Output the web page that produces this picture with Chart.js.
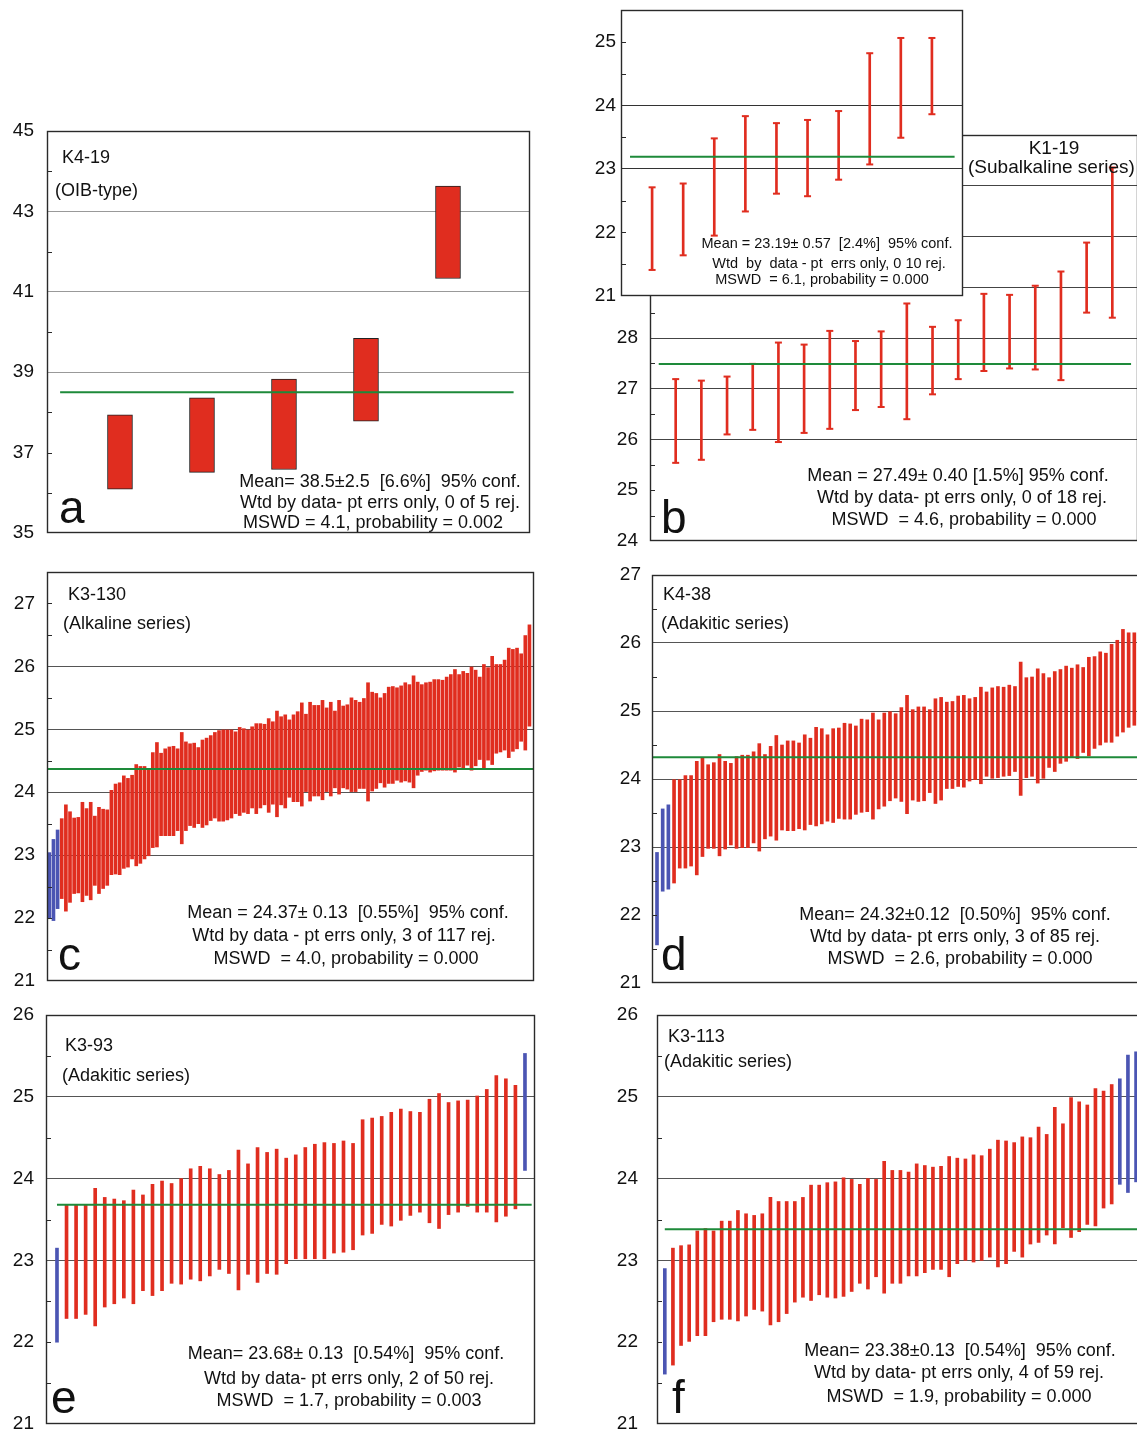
<!DOCTYPE html>
<html>
<head>
<meta charset="utf-8">
<title>Weighted mean ages</title>
<script src="https://cdn.jsdelivr.net/npm/chart.js@4/dist/chart.umd.min.js"></script>
<style>
  html, body { margin: 0; padding: 0; background: #fff; width: 1137px; height: 1429px; overflow: hidden; position: relative; }
  .txt { position: absolute; font-family: "Liberation Sans", Arial, Helvetica, sans-serif; color: #111; white-space: pre; z-index: 10; }
</style>
</head>
<body>
<script>
// ---------- data: individual spot ages (lower / upper 2σ bounds), Ma ----------
const aLow  = [36.09, 36.51, 36.58, 37.78, 41.33];
const aHigh = [37.94, 38.36, 38.83, 39.84, 43.63];
const aMean = 38.5;

const bLow  = [25.54, 25.60, 26.10, 26.19, 25.95, 26.13, 26.21, 26.58, 26.64, 26.40, 26.89, 27.19, 27.35, 27.40, 27.38, 27.17, 28.50, 28.40];
const bHigh = [27.19, 27.16, 27.24, 27.49, 27.91, 27.87, 28.14, 27.94, 28.13, 28.68, 28.22, 28.35, 28.87, 28.85, 29.03, 29.31, 29.88, 31.36];
const bMean = 27.49;

const insetLow  = [21.41, 21.64, 21.95, 22.33, 22.61, 22.57, 22.83, 23.07, 23.49, 23.86];
const insetHigh = [22.71, 22.77, 23.48, 23.83, 23.72, 23.77, 23.91, 24.82, 25.06, 25.06];
const insetMean = 23.19;

const cLow = [
  21.99, 21.96, 22.15, 22.31, 22.11, 22.25, 22.39, 22.40, 22.26, 22.36,
  22.29, 22.52, 22.39, 22.47, 22.52, 22.69, 22.70, 22.69, 22.79, 22.81,
  22.94, 22.83, 22.87, 22.94, 22.99, 23.12, 23.13, 23.31, 23.31, 23.31,
  23.31, 23.39, 23.18, 23.39, 23.47, 23.44, 23.50, 23.44, 23.48, 23.55,
  23.59, 23.54, 23.54, 23.56, 23.59, 23.66, 23.63, 23.68, 23.66, 23.75,
  23.66, 23.75, 23.80, 23.68, 23.81, 23.61, 23.80, 23.75, 23.92, 23.85,
  23.85, 23.78, 24.01, 23.86, 23.94, 23.94, 23.88, 24.01, 23.94, 24.07,
  23.97, 24.07, 24.05, 24.01, 24.01, 24.06, 24.06, 23.86, 24.02, 24.06,
  24.15, 24.08, 24.14, 24.14, 24.19, 24.16, 24.18, 24.16, 24.07, 24.27,
  24.33, 24.35, 24.32, 24.34, 24.35, 24.35, 24.35, 24.35, 24.32, 24.40,
  24.38, 24.43, 24.35, 24.42, 24.52, 24.38, 24.51, 24.44, 24.62, 24.64,
  24.67, 24.55, 24.65, 24.69, 24.81, 24.67, 25.05
];
const cHigh = [
  23.04, 23.25, 23.40, 23.58, 23.80, 23.69, 23.59, 23.60, 23.84, 23.74,
  23.84, 23.62, 23.76, 23.73, 23.72, 24.03, 24.13, 24.15, 24.26, 24.22,
  24.27, 24.44, 24.41, 24.41, 24.36, 24.63, 24.79, 24.62, 24.69, 24.72,
  24.73, 24.69, 24.95, 24.80, 24.77, 24.78, 24.71, 24.83, 24.86, 24.90,
  24.95, 24.98, 24.99, 24.99, 24.99, 24.96, 25.03, 25.01, 24.99, 25.04,
  25.09, 25.09, 25.08, 25.17, 25.12, 25.29, 25.20, 25.23, 25.15, 25.23,
  25.28, 25.42, 25.24, 25.43, 25.38, 25.38, 25.46, 25.34, 25.43, 25.29,
  25.46, 25.37, 25.39, 25.50, 25.46, 25.43, 25.49, 25.74, 25.59, 25.57,
  25.50, 25.57, 25.67, 25.68, 25.66, 25.69, 25.74, 25.71, 25.85, 25.75,
  25.71, 25.74, 25.75, 25.79, 25.79, 25.78, 25.83, 25.87, 25.95, 25.87,
  25.92, 25.89, 25.99, 25.94, 25.83, 26.03, 25.98, 26.16, 26.03, 26.03,
  26.10, 26.29, 26.27, 26.29, 26.20, 26.49, 26.66
];
const cMean = 24.37;
const cRejected = [1, 2, 3];

const dLow = [
  21.56, 22.35, 22.38, 22.47, 22.69, 22.69, 22.72, 22.59, 22.86, 22.98,
  22.98, 22.87, 22.97, 23.03, 22.98, 22.99, 22.99, 23.06, 22.94, 23.12,
  23.16, 23.10, 23.25, 23.24, 23.24, 23.27, 23.25, 23.33, 23.31, 23.34,
  23.38, 23.36, 23.42, 23.41, 23.41, 23.48, 23.51, 23.52, 23.41, 23.56,
  23.60, 23.68, 23.72, 23.67, 23.49, 23.69, 23.67, 23.68, 23.80, 23.64,
  23.69, 23.86, 23.86, 23.89, 23.88, 23.97, 23.99, 23.93, 24.04, 24.01,
  24.02, 24.04, 24.05, 24.11, 23.76, 24.02, 24.04, 23.94, 24.01, 24.17,
  24.11, 24.23, 24.26, 24.33, 24.30, 24.39, 24.34, 24.45, 24.50, 24.54,
  24.54, 24.63, 24.69, 24.76, 24.79
];
const dHigh = [
  22.92, 23.56, 23.62, 23.99, 23.99, 24.05, 24.05, 24.26, 24.31, 24.21,
  24.24, 24.36, 24.26, 24.23, 24.33, 24.35, 24.35, 24.40, 24.52, 24.36,
  24.48, 24.64, 24.50, 24.56, 24.56, 24.53, 24.65, 24.60, 24.76, 24.74,
  24.65, 24.74, 24.75, 24.82, 24.81, 24.78, 24.88, 24.87, 24.97, 24.87,
  24.97, 24.99, 24.96, 25.05, 25.23, 25.02, 25.06, 25.06, 25.02, 25.18,
  25.20, 25.13, 25.14, 25.22, 25.23, 25.18, 25.20, 25.35, 25.28, 25.34,
  25.36, 25.35, 25.38, 25.36, 25.72, 25.49, 25.50, 25.62, 25.55, 25.49,
  25.58, 25.61, 25.66, 25.63, 25.68, 25.64, 25.79, 25.80, 25.87, 25.85,
  25.98, 26.04, 26.20, 26.15, 26.15
];
const dMean = 24.32;
const dRejected = [1, 2, 3];

const eLow = [
  22.00, 22.29, 22.29, 22.34, 22.20, 22.43, 22.47, 22.54, 22.47, 22.63,
  22.57, 22.63, 22.72, 22.71, 22.77, 22.75, 22.81, 22.89, 22.84, 22.64,
  22.83, 22.73, 22.84, 22.83, 22.96, 23.02, 23.02, 23.02, 23.02, 23.09,
  23.10, 23.13, 23.31, 23.33, 23.44, 23.42, 23.49, 23.55, 23.59, 23.46,
  23.39, 23.56, 23.59, 23.66, 23.59, 23.59, 23.47, 23.54, 23.63, 24.10
];
const eHigh = [
  23.15, 23.68, 23.68, 23.68, 23.88, 23.77, 23.75, 23.73, 23.86, 23.80,
  23.93, 23.97, 23.94, 24.00, 24.12, 24.15, 24.12, 24.05, 24.10, 24.35,
  24.18, 24.38, 24.32, 24.36, 24.25, 24.29, 24.38, 24.42, 24.44, 24.43,
  24.46, 24.43, 24.72, 24.74, 24.76, 24.81, 24.85, 24.82, 24.81, 24.97,
  25.04, 24.93, 24.95, 24.96, 25.01, 25.09, 25.26, 25.22, 25.14, 25.53
];
const eMean = 23.68;
const eRejected = [1, 50];

const fLow = [
  21.61, 21.72, 21.96, 22.01, 22.08, 22.08, 22.25, 22.28, 22.28, 22.26,
  22.32, 22.40, 22.38, 22.21, 22.25, 22.35, 22.49, 22.55, 22.51, 22.58,
  22.55, 22.54, 22.56, 22.62, 22.72, 22.65, 22.80, 22.60, 22.72, 22.72,
  22.81, 22.81, 22.85, 22.89, 22.89, 22.80, 22.96, 23.00, 22.98, 23.00,
  23.04, 22.92, 22.96, 23.11, 23.04, 23.20, 23.22, 23.31, 23.20, 23.40,
  23.28, 23.35, 23.44, 23.42, 23.64, 23.69, 23.93, 23.83, 23.96
];
const fHigh = [
  22.90, 23.15, 23.18, 23.19, 23.36, 23.39, 23.36, 23.48, 23.48, 23.61,
  23.57, 23.55, 23.57, 23.77, 23.72, 23.72, 23.72, 23.77, 23.92, 23.92,
  23.95, 23.96, 24.01, 23.99, 23.93, 24.00, 23.99, 24.21, 24.10, 24.10,
  24.08, 24.18, 24.16, 24.14, 24.15, 24.27, 24.25, 24.24, 24.29, 24.28,
  24.36, 24.47, 24.46, 24.44, 24.51, 24.50, 24.63, 24.54, 24.87, 24.67,
  24.99, 24.94, 24.90, 25.10, 25.07, 25.15, 25.22, 25.51, 25.55
];
const fMean = 23.38;
const fRejected = [1, 57, 58, 59];

// ---------- axis tick labels and gridlines ----------
const aTickLabels = [35, 37, 39, 41, 43, 45];
const aGridLines  = [39, 41, 43];
const bTickLabels = [24, 25, 26, 27, 28];
const bGridLines  = [26, 27, 28, 29, 30, 31];
const insetTickLabels = [21, 22, 23, 24, 25];
const insetGridLines  = [23, 24];
const cTickLabels = [21, 22, 23, 24, 25, 26, 27];
const cGridLines  = [23, 24, 25, 26];
const dTickLabels = [21, 22, 23, 24, 25, 26, 27];
const dGridLines  = [23, 24, 25, 26];
const eTickLabels = [21, 22, 23, 24, 25, 26];
const eGridLines  = [23, 24, 25];
const fTickLabels = [21, 22, 23, 24, 25, 26];
const fGridLines  = [23, 24, 25];

// ---------- styling ----------
const RED = '#e02d1f';
const BLUE = '#4b55b3';
const GREEN = '#1e8a3a';
const FONT = '"Liberation Sans", Arial, Helvetica, sans-serif';

// Frame around the plot area, white backing for overlaid panels, inward minor ticks
const framePlugin = {
  id: 'frame',
  beforeDraw(chart, args, opts) {
    if (!opts.fill) return;
    const { ctx, chartArea: ca } = chart;
    ctx.save();
    ctx.fillStyle = '#fff';
    ctx.fillRect(ca.left, ca.top, ca.right - ca.left, ca.bottom - ca.top);
    ctx.restore();
  },
  afterDraw(chart, args, opts) {
    const { ctx, chartArea: ca } = chart;
    const y = chart.scales.y;
    ctx.save();
    ctx.strokeStyle = '#2a2a2a';
    ctx.lineWidth = 1;
    y.ticks.forEach(t => {
      if (opts.grid.includes(t.value) || t.value === y.min || t.value === y.max) return;
      const py = Math.round(y.getPixelForValue(t.value)) + 0.5;
      ctx.beginPath();
      ctx.moveTo(ca.left, py);
      ctx.lineTo(ca.left + 5, py);
      ctx.stroke();
    });
    ctx.lineWidth = 1.4;
    ctx.strokeRect(Math.round(ca.left) + 0.5, Math.round(ca.top) + 0.5,
                   Math.round(ca.right - ca.left) - 1, Math.round(ca.bottom - ca.top) - 1);
    ctx.restore();
  }
};

function errorPanel(cfg) {
  const W = 44, P = 14, R = 2;
  const [x0, y0, x1, y1] = cfg.box;
  const w = x1 - x0 + W + R;
  const h = y1 - y0 + 2 * P;
  const cv = document.createElement('canvas');
  cv.width = w; cv.height = h;
  cv.style.cssText = `position:absolute;left:${x0 - W}px;top:${y0 - P}px;width:${w}px;height:${h}px;z-index:${cfg.z || 1}`;
  document.body.appendChild(cv);

  const rejected = cfg.rejected || [];
  const bars = cfg.low.map((lo, i) => ({ x: i + 1, y: [lo, cfg.high[i]] }));
  const datasets = [{
    type: 'line',
    data: [{ x: cfg.meanFrom, y: cfg.mean }, { x: cfg.meanTo, y: cfg.mean }],
    borderColor: GREEN, borderWidth: 2, pointRadius: 0, order: 0
  }];
  if (cfg.caps) {
    const capPts = [];
    cfg.low.forEach((lo, i) => { capPts.push({ x: i + 1, y: lo }, { x: i + 1, y: cfg.high[i] }); });
    datasets.push({
      type: 'line', showLine: false, data: capPts,
      pointStyle: 'line', pointRadius: 3.5, pointBorderWidth: 2,
      pointBorderColor: RED, pointBackgroundColor: RED, order: 1
    });
  }
  datasets.push({
    type: 'bar', data: bars,
    backgroundColor: ctx => rejected.includes(ctx.dataIndex + 1) ? BLUE : RED,
    borderColor: cfg.outline || 'rgba(0,0,0,0)',
    borderWidth: cfg.outline ? 1 : 0,
    borderSkipped: false,
    barThickness: cfg.thick,
    order: 2
  });

  new Chart(cv, {
    type: 'bar',
    data: { datasets },
    options: {
      responsive: false, animation: false, devicePixelRatio: 1,
      layout: { padding: { top: P, bottom: P, left: 0, right: R }, autoPadding: false },
      plugins: { legend: { display: false }, tooltip: { enabled: false },
                 frame: { grid: cfg.grid, fill: !!cfg.fill } },
      scales: {
        x: { type: 'linear', display: false, min: cfg.xRange[0], max: cfg.xRange[1], offset: false },
        y: {
          min: cfg.yRange[0], max: cfg.yRange[1],
          afterFit(axis) { axis.width = W; axis.paddingTop = 0; axis.paddingBottom = 0; },
          border: { display: false },
          grid: {
            drawTicks: false,
            lineWidth: 1,
            color: c => (c.tick && cfg.grid.includes(c.tick.value)) ? cfg.gridColor : 'rgba(0,0,0,0)'
          },
          ticks: {
            stepSize: cfg.step, autoSkip: false, padding: cfg.gap, color: '#111',
            font: { family: FONT, size: 19 },
            callback: v => cfg.labels.includes(v) ? String(v) : ''
          }
        }
      }
    },
    plugins: [framePlugin]
  });
}

function text(str, x, baseline, size, align) {
  const d = document.createElement('div');
  d.className = 'txt';
  d.textContent = str;
  d.style.fontSize = size + 'px';
  d.style.lineHeight = size + 'px';
  d.style.top = (baseline - 0.8465 * size) + 'px';
  d.style.left = x + 'px';
  if (align === 'center') d.style.transform = 'translateX(-50%)';
  document.body.appendChild(d);
}

// ---------- panels ----------
errorPanel({ box: [47, 131, 530, 533], yRange: [35, 45], step: 1, labels: aTickLabels, grid: aGridLines,
  gridColor: '#999', gap: 13, xRange: [0.11, 6.0], low: aLow, high: aHigh, mean: aMean,
  meanFrom: 0.27, meanTo: 5.8, thick: 25, outline: '#222' });

errorPanel({ box: [650, 135, 1138, 541], yRange: [24, 32], step: 0.5, labels: bTickLabels, grid: bGridLines,
  gridColor: '#444', gap: 12, xRange: [0, 19], low: bLow, high: bHigh, mean: bMean,
  meanFrom: 0.34, meanTo: 18.73, thick: 2, caps: true });

errorPanel({ box: [621, 10, 963, 296], yRange: [21, 25.5], step: 0.5, labels: insetTickLabels, grid: insetGridLines,
  gridColor: '#333', gap: 5, xRange: [0, 11], low: insetLow, high: insetHigh, mean: insetMean,
  meanFrom: 0.29, meanTo: 10.73, thick: 2, caps: true, fill: true, z: 3 });

errorPanel({ box: [47, 572, 534, 981], yRange: [21, 27.5], step: 0.5, labels: cTickLabels, grid: cGridLines,
  gridColor: '#555', gap: 12, xRange: [0.44, 118.1], low: cLow, high: cHigh, mean: cMean,
  meanFrom: 0.44, meanTo: 118.1, thick: 3, rejected: cRejected });

errorPanel({ box: [652, 575, 1140, 983], yRange: [21, 27], step: 0.5, labels: dTickLabels, grid: dGridLines,
  gridColor: '#555', gap: 11, xRange: [0.12, 86], low: dLow, high: dHigh, mean: dMean,
  meanFrom: 0.12, meanTo: 86, thick: 3, rejected: dRejected });

errorPanel({ box: [46, 1015, 535, 1424], yRange: [21, 26], step: 0.5, labels: eTickLabels, grid: eGridLines,
  gridColor: '#555', gap: 12, xRange: [-0.15, 51.05], low: eLow, high: eHigh, mean: eMean,
  meanFrom: 1.0, meanTo: 50.7, thick: 3, rejected: eRejected });

errorPanel({ box: [657, 1015, 1145, 1424], yRange: [21, 26], step: 0.5, labels: fTickLabels, grid: fGridLines,
  gridColor: '#555', gap: 19, xRange: [0.04, 60.1], low: fLow, high: fHigh, mean: fMean,
  meanFrom: 1.0, meanTo: 60.1, thick: 3, rejected: fRejected });

// ---------- annotations ----------
const S = 18;
// a
text('K4-19', 62, 163, S);
text('(OIB-type)', 55, 196, S);
text('a', 59, 523, 46);
text('Mean= 38.5\u00b12.5  [6.6%]  95% conf.', 380, 487, S, 'center');
text('Wtd by data- pt errs only, 0 of 5 rej.', 380, 508, S, 'center');
text('MSWD = 4.1, probability = 0.002', 373, 528, S, 'center');
// b
text('K1-19', 1054, 154, 19, 'center');
text('(Subalkaline series)', 968, 173, 19);
text('b', 661, 533, 46);
text('Mean = 27.49\u00b1 0.40 [1.5%] 95% conf.', 958, 481, S, 'center');
text('Wtd by data- pt errs only, 0 of 18 rej.', 962, 503, S, 'center');
text('MSWD  = 4.6, probability = 0.000', 964, 525, S, 'center');
// inset of b
text('Mean = 23.19\u00b1 0.57  [2.4%]  95% conf.', 827, 248, 14.5, 'center');
text('Wtd  by  data - pt  errs only, 0 10 rej.', 829, 268, 14.5, 'center');
text('MSWD  = 6.1, probability = 0.000', 822, 284, 14.5, 'center');
// c
text('K3-130', 68, 600, S);
text('(Alkaline series)', 63, 629, S);
text('c', 58, 970, 46);
text('Mean = 24.37\u00b1 0.13  [0.55%]  95% conf.', 348, 918, S, 'center');
text('Wtd by data - pt errs only, 3 of 117 rej.', 344, 941, S, 'center');
text('MSWD  = 4.0, probability = 0.000', 346, 964, S, 'center');
// d
text('K4-38', 663, 600, S);
text('(Adakitic series)', 661, 629, S);
text('d', 661, 970, 46);
text('Mean= 24.32\u00b10.12  [0.50%]  95% conf.', 955, 920, S, 'center');
text('Wtd by data- pt errs only, 3 of 85 rej.', 955, 942, S, 'center');
text('MSWD  = 2.6, probability = 0.000', 960, 964, S, 'center');
// e
text('K3-93', 65, 1051, S);
text('(Adakitic series)', 62, 1081, S);
text('e', 51, 1413, 46);
text('Mean= 23.68\u00b1 0.13  [0.54%]  95% conf.', 346, 1359, S, 'center');
text('Wtd by data- pt errs only, 2 of 50 rej.', 349, 1384, S, 'center');
text('MSWD  = 1.7, probability = 0.003', 349, 1406, S, 'center');
// f
text('K3-113', 668, 1042, S);
text('(Adakitic series)', 664, 1067, S);
text('f', 672, 1413, 46);
text('Mean= 23.38\u00b10.13  [0.54%]  95% conf.', 960, 1356, S, 'center');
text('Wtd by data- pt errs only, 4 of 59 rej.', 959, 1378, S, 'center');
text('MSWD  = 1.9, probability = 0.000', 959, 1402, S, 'center');
</script>
</body>
</html>
